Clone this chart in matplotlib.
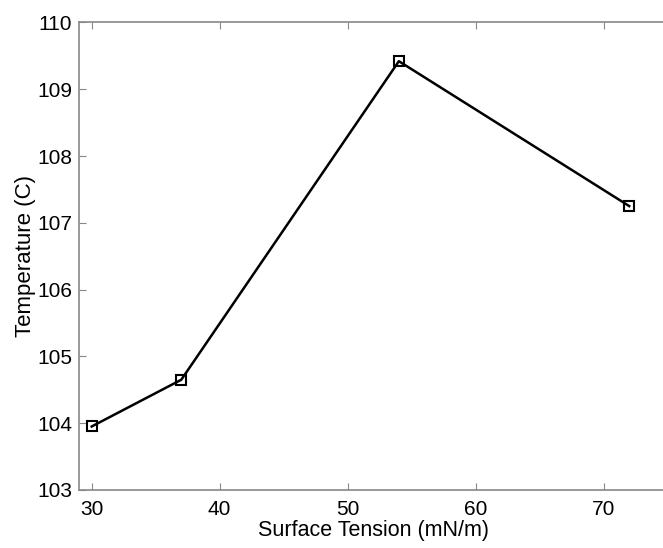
import matplotlib
matplotlib.use("Agg")
import matplotlib.pyplot as plt

surface_tension = [30, 37, 54, 72]
temperature = [103.95, 104.65, 109.42, 107.25]
xticks = [30, 40, 50, 60, 70]
yticks = [103, 104, 105, 106, 107, 108, 109, 110]

plt.rcParams['font.family'] = ['Liberation Sans', 'DejaVu Sans']
fig = plt.figure(figsize=(6.63, 5.48), dpi=100)
ax = fig.add_axes([0.119, 0.106, 0.888, 0.853])
ax.plot(surface_tension, temperature, color='black', lw=1.8, marker='s',
        markersize=7, markerfacecolor='none', markeredgecolor='black', markeredgewidth=1.5)
ax.set_xlim(29, 75)
ax.set_ylim(103, 110)
ax.set_xticks(xticks)
ax.set_yticks(yticks)
ax.tick_params(direction='in', top=True, right=False, labelsize=15, color='#888888', length=5)
ax.tick_params(axis='x', pad=7)
ax.tick_params(axis='y', pad=5)
for s in ax.spines.values():
    s.set_color('#888888')
    s.set_linewidth(1.2)
ax.set_xlabel('Surface Tension (mN/m)', fontsize=15.5, labelpad=1)
ax.set_ylabel('Temperature (C)', fontsize=16, labelpad=1)
fig.savefig('out.png', dpi=100)
